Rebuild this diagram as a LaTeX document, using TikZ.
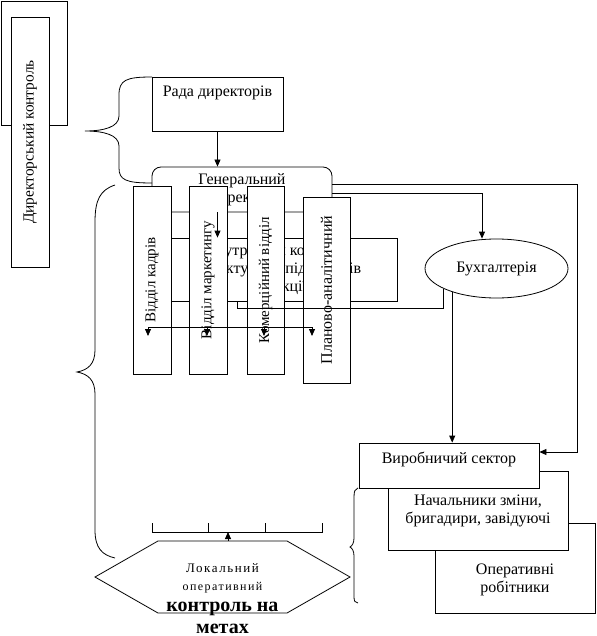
\documentclass[tikz,border=0pt]{standalone}
\usepackage{fontspec}
\setmainfont{Liberation Serif}
\newfontfamily\spacedfont[LetterSpace=12]{Liberation Serif}
\usetikzlibrary{arrows.meta,shapes.geometric,shapes.symbols}

\begin{document}
\begin{tikzpicture}[x=1pt, y=-1pt, line width=0.8pt,
  every node/.style={font=\fontsize{16}{18}\selectfont},
  box/.style={draw, fill=white, inner sep=3pt, align=center},
  vbox/.style={draw, fill=white, inner sep=0pt, minimum width=38pt, minimum height=188pt, font=\fontsize{15}{18}\selectfont},
  arr/.style={-{Triangle[length=7pt,width=6pt]}}]
  \useasboundingbox (0,0) rectangle (596,636);

  % directors' control
  \node[draw, minimum width=66pt, minimum height=124pt] (dirframe) at (34,63) {};
  \node[vbox, minimum height=250pt, font=\fontsize{15.4}{18}\selectfont] (dirctl) at (30,142) {\rotatebox{90}{Директорський контроль}};

  \node[box, minimum width=131pt, minimum height=54pt] (rada) at (217.5,104) {Рада директорів\rule[-26pt]{0pt}{26pt}};
  \node[box, rounded corners=9pt, minimum width=180pt, minimum height=45pt] (gen) at (242,189.5) {Генеральний\\директор};
  \node[box, minimum width=237pt, minimum height=63pt] (vnutr) at (278.5,269.5) {Внутрішній контроль\\структурних підрозділів\\дирекції};

  % departments
  \node[vbox] (kadr) at (152,280) {\rotatebox{90}{Відділ кадрів}};
  \node[vbox] (mark) at (208,280) {\rotatebox{90}{Відділ маркетингу}};
  \node[vbox, minimum width=37pt] (komerc) at (265.5,280) {\rotatebox{90}{Комерційний відділ}};
  \node[vbox, minimum width=47pt, minimum height=186pt, font=\fontsize{16}{18}\selectfont] (plan) at (326.5,290) {\rotatebox{90}{Планово-аналітичний}};

  \node[draw, ellipse, minimum width=143pt, minimum height=59pt, inner sep=0pt] (buh) at (496.5,268.5) {Бухгалтерія};

  % production
  \node[box, minimum width=160pt, minimum height=90pt] (oper) at (515,568) {\rule{0pt}{34pt}Оперативні\\робітники};
  \node[box, minimum width=180pt, minimum height=79pt] (nach) at (478,510.5) {Начальники зміни,\\бригадири, завідуючі};
  \node[box, minimum width=180pt, minimum height=45pt] (vyrob) at (449,465.5) {Виробничий сектор\rule[-16pt]{0pt}{16pt}};

  % local control
  \node[draw, signal, signal to=west and east, signal pointer angle=59.5, minimum width=255pt, minimum height=72pt, inner sep=0pt] (lok) at (222.5,577) {};
  \node[align=center, inner sep=0pt] (loktext) at (222.5,599) {{\spacedfont\fontsize{13}{18}\selectfont Локальний}\\
    {\spacedfont\fontsize{12}{18}\selectfont оперативний}\\[3pt]
    {\bfseries\fontsize{20}{21}\selectfont контроль на}\\[4pt]
    {\bfseries\fontsize{20}{21}\selectfont метах}};

  % braces
  \draw (152,77) .. controls (126,77) and (119,80) .. (119,95) -- (119,116) .. controls (119,127) and (104,131) .. (85,131)
    .. controls (104,131) and (119,135) .. (119,146) -- (119,168) .. controls (119,180) and (126,183) .. (152,183);
  \draw (115,185) .. controls (100,190) and (95,200) .. (95,222) -- (95,350) .. controls (95,364) and (88,370) .. (77,372)
    .. controls (88,374) and (95,380) .. (95,394) -- (95,530) .. controls (95,548) and (102,555) .. (115,558);
  \draw (358,488) .. controls (355,489) and (354,491) .. (354,497) -- (354,538) .. controls (354,543) and (352,546) .. (350,547)
    .. controls (352,548) and (354,551) .. (354,556) -- (354,597) .. controls (354,601) and (355,603) .. (358,603);

  % comb above local control
  \coordinate (combL) at (152,532);
  \coordinate (combR) at (322,532);
  \draw (152,523) -- (combL) -- (combR) -- (322,523);
  \foreach \x in {208,265} \draw (\x,523) -- (\x,532);

  % bus under departments
  \coordinate (busL) at (148,327);
  \coordinate (busR) at (312,327);
  \draw (busL) -- (busR);
  \foreach \x in {148,207,264,312} \draw[arr] (\x,327) -- (\x,336);

  % connectors
  \draw[arr] (rada.south) -- (rada.south |- gen.north);
  \draw[arr] (rada.south |- gen.south) -- (rada.south |- vnutr.north);
  \draw[arr] ([yshift=5.5pt]gen.east) -- ++(245,0) |- ([yshift=13.5pt]vyrob.east);
  \draw[arr] ([yshift=-3.5pt]gen.east) -| ([xshift=-14.5pt]buh.north);
  \draw[arr] (buh.208) -- (buh.208 |- vyrob.north);
  \coordinate (bk) at (237,308);
  \draw (buh.201) |- (bk) -- (bk |- vnutr.south);
  \draw[arr] ([xshift=5.5pt]lok.north) -- ([xshift=5.5pt]lok.north |- combL);
\end{tikzpicture}
\end{document}
